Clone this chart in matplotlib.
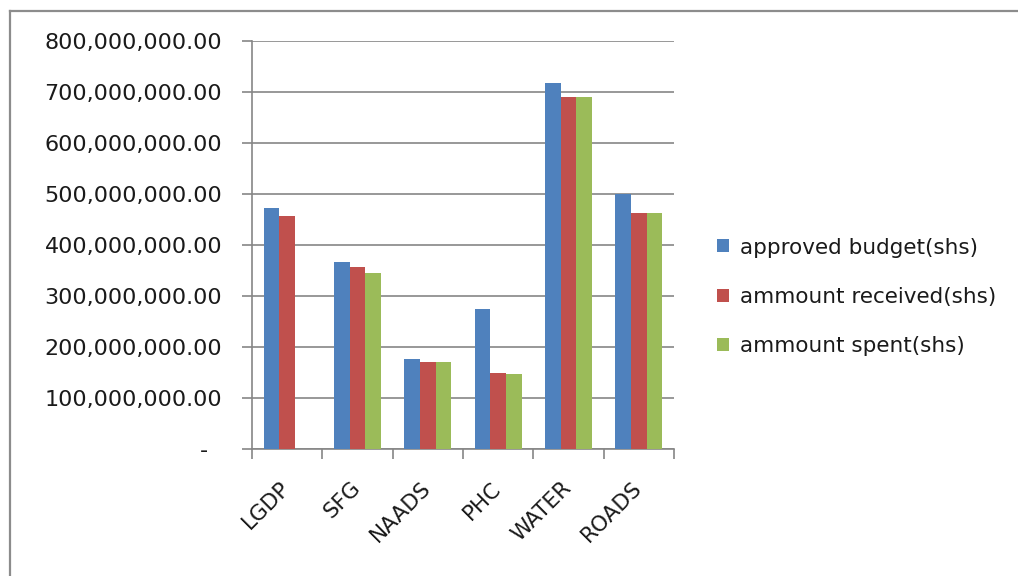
import numpy as np
import matplotlib
matplotlib.use("Agg")
import matplotlib.pyplot as plt
from matplotlib.lines import Line2D
from matplotlib.ticker import FuncFormatter, MultipleLocator

# Budget performance per programme (Uganda shillings)
programmes = ["LGDP", "SFG", "NAADS", "PHC", "WATER", "ROADS"]
approved = [473e6, 366e6, 177e6, 274e6, 717e6, 500e6]
received = [456e6, 356e6, 170e6, 150e6, 690e6, 463e6]
spent = [0, 346e6, 170e6, 147e6, 690e6, 463e6]

series_names = ["approved budget(shs)", "ammount received(shs)", "ammount spent(shs)"]
colors = ["#4F81BD", "#C0504D", "#9BBB59"]

W, H = 1018, 576
fig = plt.figure(figsize=(W / 100, H / 100), dpi=100)
fig.patch.set_facecolor("white")

# axes box in pixel terms
left, right, top, bottom = 252, 674, 41, 449
ax = fig.add_axes([left / W, 1 - bottom / H, (right - left) / W, (bottom - top) / H])

grid_col = "#868686"
text_col = "#1a1a1a"
fs = 15.5

x = np.arange(len(programmes))
bw = 0.222
for i, (vals, c, name) in enumerate(zip([approved, received, spent], colors, series_names)):
    ax.bar(x + (i - 1) * bw, vals, width=bw, color=c, label=name, zorder=3, linewidth=0)

ax.set_xlim(-0.5, len(programmes) - 0.5)
ax.set_ylim(0, 800e6)
ax.yaxis.set_major_locator(MultipleLocator(100e6))


def money(v, pos):
    if abs(v) < 1:
        return "-  "
    return f"{v:,.2f}"


ax.yaxis.set_major_formatter(FuncFormatter(money))
ax.grid(axis="y", color=grid_col, linewidth=1.2, zorder=0)
ax.set_axisbelow(True)

for s in ["top", "right"]:
    ax.spines[s].set_visible(False)
for s in ["left", "bottom"]:
    ax.spines[s].set_color(grid_col)
    ax.spines[s].set_linewidth(1.2)

ax.tick_params(axis="y", direction="out", length=7, width=1.2, color=grid_col,
               labelsize=16, labelcolor=text_col, pad=14.5)

# category labels at centres, tick marks at the boundaries
ax.set_xticks(x)
ax.set_xticklabels(programmes, rotation=45, ha="right", va="center", rotation_mode="anchor",
                   fontsize=fs, color=text_col)
ax.tick_params(axis="x", which="major", length=0, pad=26)
ax.set_xticks(np.arange(-0.5, len(programmes)), minor=True)
ax.tick_params(axis="x", which="minor", direction="out", length=7, width=1.2, color=grid_col)

fig.legend(loc="center left", bbox_to_anchor=(698 / W, 1 - 297 / H), frameon=False,
           fontsize=fs, handlelength=0.55, handleheight=0.55, handletextpad=0.5,
           labelspacing=1.37, labelcolor=text_col)

# chart area border (left and top edges)
fig.add_artist(Line2D([9.5 / W, 9.5 / W], [0, 1 - 10.5 / H], transform=fig.transFigure,
                      color="#8c8c8c", linewidth=1.6))
fig.add_artist(Line2D([9.5 / W, 1], [1 - 10.5 / H, 1 - 10.5 / H], transform=fig.transFigure,
                      color="#8c8c8c", linewidth=1.6))

fig.savefig("out.png", dpi=100)
